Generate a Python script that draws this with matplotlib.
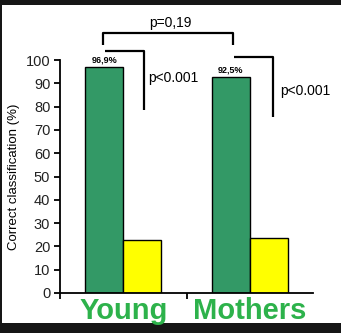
import numpy as np
import matplotlib.pyplot as plt
from matplotlib.patches import Rectangle

groups = ["Young", "Mothers"]
green_vals = [96.9, 92.5]
yellow_vals = [22.7, 23.7]
green_labels = ["96,9%", "92,5%"]

plt.rcParams['font.family'] = ['Liberation Sans', 'DejaVu Sans']

fig = plt.figure(figsize=(3.41, 3.33), dpi=100, facecolor='#161616')
fig.patches.append(Rectangle((2/341, 10/333), 1, 318/333, transform=fig.transFigure,
                             facecolor='white', edgecolor='none', zorder=-10))
ax = fig.add_axes([60/341, 40/333, 253/341, 233/333])
ax.set_facecolor('none')

x = np.arange(len(groups))
w = 0.30
ax.bar(x - w/2, green_vals, w, color='#339966', edgecolor='black', linewidth=1)
ax.bar(x + w/2, yellow_vals, w, color='#ffff00', edgecolor='black', linewidth=1)

for xi, v, lab in zip(x, green_vals, green_labels):
    ax.text(xi - w/2, v + 3, lab, ha='center', va='center', fontsize=6.5, fontweight='bold')

ax.set_xlim(-0.5, 1.5)
ax.set_ylim(0, 100)
ax.set_yticks(range(0, 101, 10))
ax.tick_params(axis='y', labelsize=10.5, length=4, width=1.3, direction='out', pad=3,
               labelcolor='#222222')
ax.set_xticks(x)
ax.set_xticklabels(groups, fontsize=21, fontweight='bold', color='#2db24b')
ax.tick_params(axis='x', length=0, pad=3)
ax.set_xticks([-0.5, 0.5], minor=True)
ax.tick_params(axis='x', which='minor', length=4, width=1.3)
for s in ['top', 'right']:
    ax.spines[s].set_visible(False)
for s in ['left', 'bottom']:
    ax.spines[s].set_linewidth(1.3)
ax.set_ylabel("Correct classification (%)", fontsize=9.5, labelpad=4)

kw = dict(color='black', linewidth=1.6, clip_on=False, solid_capstyle='butt')
ax.plot([-0.16, -0.16, 0.868, 0.868], [106.4, 111.6, 111.6, 106.4], **kw)
ax.text(0.37, 116, "p=0,19", ha='center', va='center', fontsize=10)
ax.plot([-0.144, 0.164, 0.164], [103.9, 103.9, 78.5], **kw)
ax.text(0.196, 92.3, "p<0.001", ha='left', va='center', fontsize=10)
ax.plot([0.876, 1.184, 1.184], [101.3, 101.3, 75.5], **kw)
ax.text(1.239, 86.7, "p<0.001", ha='left', va='center', fontsize=10)

fig.savefig("out.png", dpi=100, facecolor=fig.get_facecolor())
